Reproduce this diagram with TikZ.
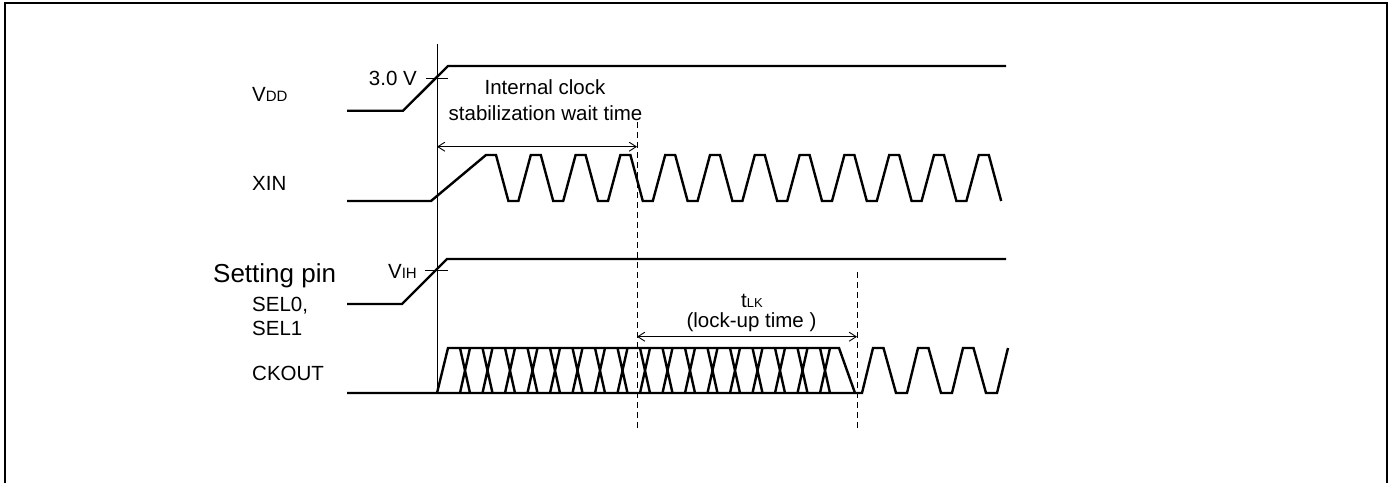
\documentclass[tikz,border=0pt]{standalone}
\usepackage{fontspec}
\setmainfont{Liberation Sans}
\usetikzlibrary{positioning, arrows.meta}

\newcommand{\lowtxt}[1]{{\fontsize{15}{15}\selectfont #1}}

\begin{document}
\begin{tikzpicture}[x=1pt, y=-1pt, inner sep=0pt,
  sig/.style={line width=2.4pt, line join=miter},
  dim/.style={line width=0.9pt, {Straight Barb[length=7pt,width=9pt]}-{Straight Barb[length=7pt,width=9pt]}},
  guide/.style={line width=0.9pt, dash pattern=on 6pt off 4pt},
  lbl/.style={font=\fontsize{20.5}{24}\selectfont}]

\useasboundingbox (0,0) rectangle (1393,483);
\draw[line width=2.8pt] (5,483) -- (5,3) -- (1387,3) -- (1387,483);

% signal names
\node[lbl, anchor=base west] (vdd) at (252,101.5) {V\lowtxt{DD}};
\node[lbl, anchor=base west] (xin) at (252,190) {XIN};
\node[font=\fontsize{26}{30}\selectfont, anchor=base west] (pin) at (213,282) {Setting pin};
\node[lbl, anchor=base west] (sel0) at (252,311.5) {SEL0,};
\node[lbl, anchor=base west] (sel1) at (252,335) {SEL1};
\node[lbl, anchor=base west] (ckout) at (252,380) {CKOUT};

% start line and guides
\coordinate (s0) at (437,44);
\coordinate (s1) at (437,393);
\draw[line width=0.9pt] (s0) -- (s1);
\coordinate (g1) at (637,122);
\coordinate (g2) at (637,430);
\coordinate (h1) at (857,272);
\coordinate (h2) at (857,430);
\draw[guide] (g1) -- (g2);
\draw[guide] (h1) -- (h2);

% VDD
\draw[sig] (347,110.7) -- (403,110.7) -- (448,66) -- (1006,66);
\draw[line width=0.9pt] (426,78) -- (448,78);
\node[lbl, anchor=base east] (v30) at (417,85.5) {3.0 V};

% XIN
\draw[sig] (347,201) -- (431,201) -- (486,155)
  foreach \i in {0,...,10} { -- ++(10,0) -- ++(12.4,46) -- ++(10,0) -- ++(12.4,-46) }
  -- ++(10,0) -- ++(12.4,46);

% SEL0, SEL1
\draw[sig] (347,304) -- (402,304) -- (447,259) -- (1006,259);
\draw[line width=0.9pt] (425,270) -- (448,270);
\node[lbl, anchor=base east] (vih) at (417,278) {V\lowtxt{IH}};

% CKOUT
\draw[sig] (347,393) -- (862,393)
  foreach \i in {1,2,3} { -- ++(11,-45) -- ++(10.5,0) -- ++(12.5,45) -- ++(11,0) }
  -- ++(11,-45);
\draw[sig] (437,393) -- (448,348) -- (839,348) -- (855,393);
\foreach \k in {0,...,16}
  \draw[sig] ({460+22.5*\k},348) -- ++(10,45) ++(-10,0) -- ++(10,-45);

% wait time
\coordinate (w1) at (437,146.7);
\coordinate (w2) at (637,146.7);
\draw[dim] (w1) -- (w2);
\node[lbl, anchor=base] (icw1) at (545,94) {Internal clock};
\node[lbl, anchor=base] (icw2) at (545.5,120.5) {stabilization wait time};

% lock-up time
\coordinate (l1) at (637,336.7);
\coordinate (l2) at (857,336.7);
\draw[dim] (l1) -- (l2);
\node[font=\fontsize{20.5}{22}\selectfont, anchor=base] (tlk) at (752,307) {t{\fontsize{13}{14}\selectfont LK}};
\node[lbl, anchor=base] (lkt) at (751.5,327) {(lock-up time )};

\end{tikzpicture}
\end{document}
